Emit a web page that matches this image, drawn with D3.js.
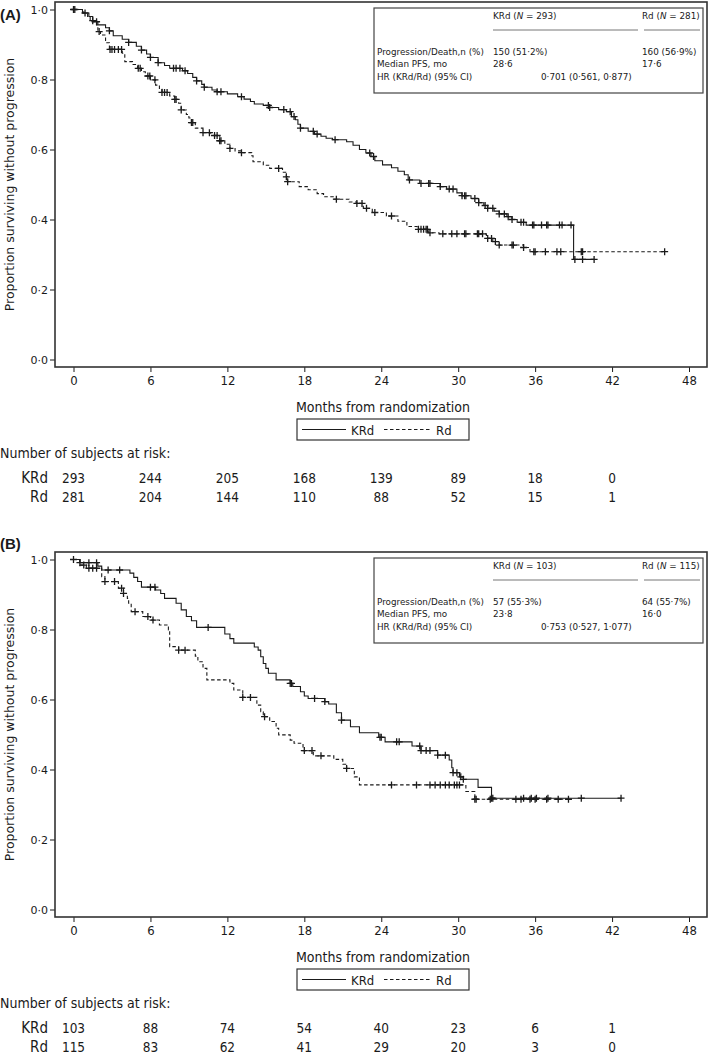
<!DOCTYPE html>
<html><head><meta charset="utf-8">
<script src="https://cdn.jsdelivr.net/npm/d3@7"></script>
<style>
body{margin:0;background:#fff;}
svg{display:block;}
</style></head>
<body>
<svg id="chart" width="709" height="1055"></svg>
<script>
// ---------------- DATA ----------------
const xTicks = [0, 6, 12, 18, 24, 30, 36, 42, 48];
const yTicks = [0, 0.2, 0.4, 0.6, 0.8, 1.0];
const riskTimes = [0, 6, 12, 18, 24, 30, 36, 42];
const groups = ["KRd", "Rd"];

// Panel A — step points [month, proportion after drop]
const A_KRd_steps = [[0,1.000],[0.7,0.990],[1.2,0.980],[1.5,0.968],[1.8,0.956],[2.5,0.948],[2.8,0.939],[3.1,0.925],[3.8,0.915],[4.3,0.906],[4.9,0.895],[5.3,0.884],[5.7,0.873],[6.0,0.863],[6.6,0.848],[7.1,0.840],[7.5,0.832],[8.5,0.825],[8.9,0.817],[9.3,0.806],[9.6,0.796],[10.0,0.786],[10.2,0.778],[10.8,0.770],[11.2,0.765],[12.0,0.759],[12.8,0.751],[13.3,0.744],[13.8,0.737],[14.1,0.730],[14.8,0.726],[15.3,0.720],[16.0,0.714],[16.6,0.708],[17.0,0.694],[17.3,0.685],[17.5,0.672],[17.7,0.661],[18.3,0.652],[18.8,0.644],[19.3,0.638],[19.7,0.632],[20.2,0.628],[21.3,0.622],[21.8,0.612],[22.3,0.600],[22.8,0.590],[23.2,0.580],[23.5,0.568],[24.1,0.556],[24.8,0.548],[25.3,0.538],[25.8,0.528],[26.1,0.513],[27.0,0.503],[28.6,0.494],[29.1,0.487],[29.9,0.476],[30.3,0.468],[31.0,0.460],[31.6,0.448],[32.0,0.440],[32.3,0.432],[32.8,0.424],[33.2,0.416],[33.8,0.408],[34.2,0.400],[34.6,0.392],[35.3,0.384],[39.0,0.286]];
const A_KRd_end = 40.6;
const A_KRd_cens = [0,0.1,0.9,1.5,2.8,4.3,5.3,6.0,6.6,7.8,8.0,8.3,8.7,9.6,10.2,11.2,11.5,13.1,15.2,15.3,16.4,16.9,17.2,17.7,18.7,19.0,20.4,23.1,23.4,26.2,27.1,27.7,27.8,28.6,29.3,29.6,30.3,30.5,30.6,31.3,31.6,32.1,32.3,32.7,33.2,33.6,33.9,34.2,34.9,35.1,35.8,35.9,36.5,36.9,37.0,37.9,38.1,38.8,39.1,39.7,40.6];

const A_Rd_steps = [[0,1.000],[0.8,0.990],[1.1,0.980],[1.3,0.965],[1.9,0.937],[2.1,0.927],[2.5,0.905],[2.8,0.886],[3.8,0.875],[4.0,0.851],[4.6,0.843],[5.0,0.832],[5.3,0.822],[5.6,0.810],[6.0,0.799],[6.4,0.784],[6.7,0.772],[6.9,0.763],[7.5,0.753],[7.9,0.743],[8.2,0.732],[8.4,0.713],[8.8,0.700],[9.0,0.690],[9.2,0.677],[9.5,0.661],[10.1,0.648],[10.7,0.640],[11.4,0.625],[11.8,0.615],[12.2,0.603],[12.6,0.596],[13.1,0.591],[13.9,0.582],[14.0,0.565],[14.8,0.555],[15.3,0.546],[16.3,0.535],[16.6,0.522],[16.7,0.508],[17.6,0.494],[18.3,0.485],[19.0,0.474],[19.5,0.465],[20.3,0.458],[21.5,0.450],[22.1,0.446],[22.6,0.432],[23.3,0.420],[24.4,0.410],[25.3,0.395],[26.0,0.380],[26.8,0.372],[27.7,0.362],[28.5,0.359],[32.2,0.346],[32.7,0.337],[33.2,0.327],[35.1,0.320],[35.6,0.308]];
const A_Rd_end = 46.1;
const A_Rd_cens = [1.8,2.0,2.85,3.0,3.2,3.5,3.75,5.05,5.2,5.8,5.95,6.35,6.9,7.1,7.3,7.9,8.0,8.4,9.2,9.3,10.1,10.6,11.0,11.2,11.4,11.5,12.2,13.1,16.0,16.6,16.7,20.5,22.1,22.5,22.85,23.5,24.8,26.9,27.1,27.3,27.5,27.6,27.8,28.8,29.5,29.9,30.5,30.6,31.5,31.6,31.9,32.3,32.6,32.9,33.2,34.2,34.3,35.1,35.9,36.0,36.8,37.7,38.0,39.6,39.7,46.1];

// Panel B
const B_KRd_steps = [[0,1.000],[0.5,0.991],[1.9,0.981],[2.2,0.970],[4.4,0.961],[4.7,0.949],[5.0,0.937],[5.3,0.921],[6.4,0.913],[6.8,0.903],[7.1,0.889],[8.0,0.875],[8.4,0.856],[8.8,0.837],[9.2,0.825],[9.6,0.806],[11.8,0.787],[12.2,0.774],[12.5,0.761],[14.1,0.750],[14.4,0.741],[14.6,0.722],[14.8,0.703],[15.0,0.689],[15.2,0.675],[15.8,0.656],[16.9,0.646],[17.1,0.637],[17.7,0.622],[18.0,0.610],[18.3,0.603],[19.6,0.594],[19.9,0.587],[20.5,0.562],[20.9,0.541],[21.6,0.522],[22.3,0.505],[23.8,0.492],[24.3,0.479],[26.4,0.467],[27.1,0.454],[28.4,0.441],[29.3,0.427],[29.5,0.405],[29.6,0.391],[30.1,0.379],[30.4,0.372],[31.55,0.349],[32.6,0.318]];
const B_KRd_end = 42.7;
const B_KRd_cens = [0,0.5,1.2,1.8,2.7,3.6,6.0,6.35,10.5,16.9,17.0,18.8,19.6,20.9,23.9,24.0,25.2,25.4,27.0,27.1,27.5,27.8,28.4,29.0,29.6,29.9,30.2,30.4,32.6,32.7,35.1,35.7,36.1,37.0,39.6,42.7];

const B_Rd_steps = [[0,1.000],[0.5,0.984],[1.0,0.975],[2.2,0.951],[2.45,0.937],[3.5,0.918],[3.9,0.903],[4.2,0.889],[4.3,0.875],[4.5,0.851],[5.4,0.837],[6.0,0.827],[6.7,0.813],[7.4,0.799],[7.5,0.751],[8.2,0.741],[9.5,0.724],[9.7,0.708],[10.1,0.689],[10.4,0.656],[12.2,0.646],[12.5,0.627],[13.2,0.606],[14.3,0.584],[14.6,0.565],[14.8,0.551],[15.3,0.537],[15.8,0.518],[16.0,0.499],[16.9,0.484],[17.2,0.475],[17.9,0.454],[18.7,0.439],[20.3,0.429],[21.0,0.415],[21.3,0.403],[21.9,0.379],[22.3,0.356],[30.6,0.337],[31.3,0.315]];
const B_Rd_end = 38.6;
const B_Rd_cens = [0.8,1.2,1.5,1.8,2.45,3.2,3.75,3.9,4.8,5.8,6.2,8.2,8.7,13.2,13.8,14.9,18.0,18.6,19.3,21.3,24.8,26.75,27.8,28.2,28.6,29.0,29.3,29.7,29.9,30.1,31.3,31.4,32.5,34.5,34.9,35.6,36.0,36.9,37.8,38.6];

// At-risk tables
const A_risk_KRd = [293, 244, 205, 168, 139, 89, 18, 0];
const A_risk_Rd  = [281, 204, 144, 110, 88, 52, 15, 1];
const B_risk_KRd = [103, 88, 74, 54, 40, 23, 6, 1];
const B_risk_Rd  = [115, 83, 62, 41, 29, 20, 3, 0];

// Summary boxes
const A_header = ["293", "281"];
const A_rows = [["Progression/Death,n (%)", "150 (51·2%)", "160 (56·9%)"], ["Median PFS, mo", "28·6", "17·6"]];
const A_hr = "0·701 (0·561, 0·877)";
const B_header = ["103", "115"];
const B_rows = [["Progression/Death,n (%)", "57 (55·3%)", "64 (55·7%)"], ["Median PFS, mo", "23·8", "16·0"]];
const B_hr = "0·753 (0·527, 1·077)";

// ---------------- DRAW ----------------
const svg = d3.select("#chart");
const NARROW = "'Liberation Sans Narrow','Arial Narrow','DejaVu Sans Condensed',sans-serif";
const SANS = "'DejaVu Sans',Verdana,sans-serif";
const INK = "#1a1a1a";

function fmtDot(v){ return v.toFixed(1).replace(".", "·"); }

function drawPanel(cfg){
  const off = cfg.off;
  const g = svg.append("g");
  const x = d3.scaleLinear().domain([0, 48]).range([73.5, 689]);
  const y = d3.scaleLinear().domain([0, 1]).range([359.5 + off, 9.5 + off]);
  const frameL = 55, frameR = 707, frameT = off + 2, frameB = off + 367;

  // panel label
  g.append("text").attr("x", 0).attr("y", off + cfg.labelY)
    .attr("font-family", "'Liberation Sans',Arial,sans-serif").attr("font-weight", "bold")
    .attr("font-size", 15).attr("fill", INK).text(cfg.label);

  // y axis
  const yAx = g.append("g").attr("transform", `translate(${frameL},0)`)
    .call(d3.axisLeft(y).tickValues(yTicks).tickSize(5).tickPadding(2).tickFormat(fmtDot));
  yAx.select(".domain").remove();
  yAx.selectAll("line").attr("stroke", INK);
  yAx.selectAll("text").attr("font-family", SANS).attr("font-size", 11).attr("fill", INK);

  // x axis
  const xAx = g.append("g").attr("transform", `translate(0,${frameB})`)
    .call(d3.axisBottom(x).tickValues(xTicks).tickSize(5).tickPadding(4));
  xAx.select(".domain").remove();
  xAx.selectAll("line").attr("stroke", INK);
  xAx.selectAll("text").attr("font-family", NARROW).attr("font-size", 13).attr("fill", INK);

  // frame
  g.append("rect").attr("x", frameL).attr("y", frameT)
    .attr("width", frameR - frameL).attr("height", frameB - frameT)
    .attr("fill", "none").attr("stroke", "#333").attr("stroke-width", 1.6);

  // y title
  g.append("text").attr("transform", `translate(14,${(y(0)+y(1))/2}) rotate(-90)`)
    .attr("text-anchor", "middle").attr("font-family", SANS).attr("font-size", 12.5)
    .attr("fill", INK).text("Proportion surviving without progression");

  // x title
  g.append("text").attr("x", 383).attr("y", off + 412).attr("text-anchor", "middle")
    .attr("font-family", NARROW).attr("font-size", 14).attr("fill", INK)
    .text("Months from randomization");

  // legend
  const lg = g.append("g");
  lg.append("rect").attr("x", 297).attr("y", off + 419).attr("width", 172).attr("height", 21)
    .attr("fill", "none").attr("stroke", "#333").attr("stroke-width", 1.2);
  lg.append("line").attr("x1", 302).attr("x2", 346).attr("y1", off + 429.5).attr("y2", off + 429.5)
    .attr("stroke", INK).attr("stroke-width", 1);
  lg.append("text").attr("x", 351).attr("y", off + 434.5).attr("font-family", NARROW)
    .attr("font-size", 13).attr("fill", INK).text(groups[0]);
  lg.append("line").attr("x1", 384).attr("x2", 431).attr("y1", off + 429.5).attr("y2", off + 429.5)
    .attr("stroke", INK).attr("stroke-width", 1).attr("stroke-dasharray", "3.5,2.5");
  lg.append("text").attr("x", 436).attr("y", off + 434.5).attr("font-family", NARROW)
    .attr("font-size", 13).attr("fill", INK).text(groups[1]);

  // at-risk table
  g.append("text").attr("x", 0).attr("y", off + 458).attr("font-family", NARROW)
    .attr("font-size", 14).attr("fill", INK).text("Number of subjects at risk:");
  [[groups[0], cfg.riskK, off + 483], [groups[1], cfg.riskR, off + 502]].forEach(([name, vals, yy]) => {
    g.append("text").attr("x", 48).attr("y", yy).attr("text-anchor", "end")
      .attr("font-family", NARROW).attr("font-size", 15).attr("fill", INK).text(name);
    g.selectAll(null).data(vals).enter().append("text")
      .attr("x", (d, i) => x(riskTimes[i])).attr("y", yy).attr("text-anchor", "middle")
      .attr("font-family", NARROW).attr("font-size", 13.5).attr("fill", INK).text(d => d);
  });

  // curves
  const line = d3.line().x(d => x(d[0])).y(d => y(d[1])).curve(d3.curveStepAfter);
  function stepVal(steps, t){
    let v = steps[0][1];
    for (const s of steps) { if (s[0] <= t + 1e-9) v = s[1]; else break; }
    return v;
  }
  function curve(steps, end, cens, dash){
    const pts = steps.concat([[end, steps[steps.length - 1][1]]]);
    g.append("path").attr("d", line(pts)).attr("fill", "none").attr("stroke", INK)
      .attr("stroke-width", 1.1).attr("stroke-dasharray", dash || null);
    g.selectAll(null).data(cens).enter().append("path")
      .attr("transform", t => `translate(${x(t)},${y(stepVal(steps, t))})`)
      .attr("d", "M-3.5,0H3.5M0,-3.5V3.5").attr("stroke", INK).attr("stroke-width", 1.3)
      .attr("fill", "none");
  }
  curve(cfg.rdSteps, cfg.rdEnd, cfg.rdCens, "3.5,2.5");
  curve(cfg.kSteps, cfg.kEnd, cfg.kCens, null);

  // summary box
  const bx = 374, by = off + cfg.boxTop;
  const bg = g.append("g").attr("font-family", SANS).attr("font-size", 8.8).attr("fill", INK);
  bg.append("rect").attr("x", bx).attr("y", by).attr("width", 329).attr("height", 85)
    .attr("fill", "#fff").attr("stroke", "#444").attr("stroke-width", 1.2);
  const h1 = bg.append("text").attr("x", 493).attr("y", by + 11);
  h1.append("tspan").text("KRd (");
  h1.append("tspan").attr("font-style", "italic").text("N");
  h1.append("tspan").text(" = " + cfg.header[0] + ")");
  const h2 = bg.append("text").attr("x", 642).attr("y", by + 11);
  h2.append("tspan").text("Rd (");
  h2.append("tspan").attr("font-style", "italic").text("N");
  h2.append("tspan").text(" = " + cfg.header[1] + ")");
  bg.append("line").attr("x1", 493).attr("x2", 638).attr("y1", by + 22).attr("y2", by + 22)
    .attr("stroke", "#777").attr("stroke-width", 1);
  bg.append("line").attr("x1", 644).attr("x2", 700).attr("y1", by + 22).attr("y2", by + 22)
    .attr("stroke", "#777").attr("stroke-width", 1);
  cfg.rows.forEach((r, i) => {
    const yy = by + 47 + i * 12;
    bg.append("text").attr("x", 377).attr("y", yy).text(r[0]);
    bg.append("text").attr("x", 493).attr("y", yy).text(r[1]);
    bg.append("text").attr("x", 642).attr("y", yy).text(r[2]);
  });
  bg.append("text").attr("x", 377).attr("y", by + 72).text("HR (KRd/Rd) (95% CI)");
  bg.append("text").attr("x", 541).attr("y", by + 72).text(cfg.hr);
}

drawPanel({off: 0, label: "(A)", labelY: 20, boxTop: 8,
  kSteps: A_KRd_steps, kEnd: A_KRd_end, kCens: A_KRd_cens,
  rdSteps: A_Rd_steps, rdEnd: A_Rd_end, rdCens: A_Rd_cens,
  riskK: A_risk_KRd, riskR: A_risk_Rd, header: A_header, rows: A_rows, hr: A_hr});
drawPanel({off: 550, label: "(B)", labelY: -1, boxTop: 8,
  kSteps: B_KRd_steps, kEnd: B_KRd_end, kCens: B_KRd_cens,
  rdSteps: B_Rd_steps, rdEnd: B_Rd_end, rdCens: B_Rd_cens,
  riskK: B_risk_KRd, riskR: B_risk_Rd, header: B_header, rows: B_rows, hr: B_hr});
</script>
</body></html>
